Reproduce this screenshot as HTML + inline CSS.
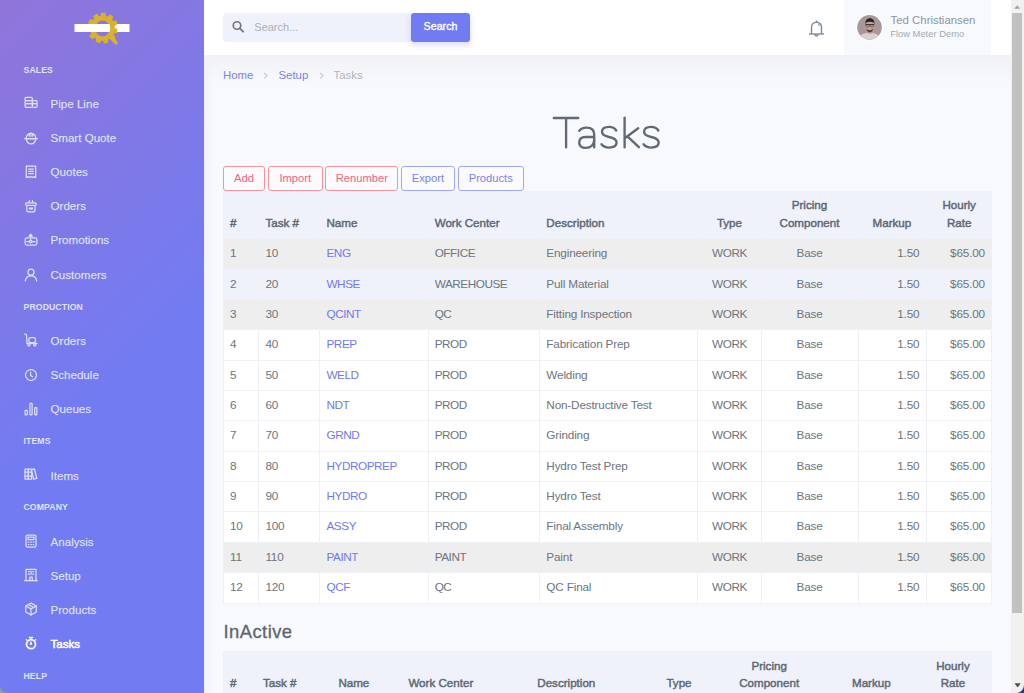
<!DOCTYPE html><html><head><meta charset="utf-8"><style>
*{box-sizing:border-box;margin:0;padding:0}
html,body{width:1024px;height:693px;overflow:hidden;background:#f8f9fd;font-family:"Liberation Sans",sans-serif;}
.abs{position:absolute;white-space:nowrap}
#side{position:absolute;left:0;top:0;width:204px;height:693px;background:linear-gradient(135deg,#9075d9 0px,#727bf2 354px);}
.sec{position:absolute;left:23.5px;font-size:8.7px;font-weight:bold;color:#dfe3f0;letter-spacing:.1px;line-height:10px}
.nav{position:absolute;left:50.5px;font-size:11.6px;color:#dde1ef;line-height:14px;-webkit-text-stroke:0.25px rgba(221,225,239,.7)}
.nav.act{color:#fff;-webkit-text-stroke:0.5px #fff}
.ico{position:absolute;left:24px;width:14px;height:14px}
#hdr{position:absolute;left:204px;top:0;width:807px;height:55px;background:#fff}
#shadow{position:absolute;left:204px;top:55px;width:808px;height:30px;background:linear-gradient(#f1f2f6,rgba(248,249,253,0))}
#lshadow{position:absolute;left:204px;top:55px;width:9px;height:638px;background:linear-gradient(90deg,#f0f2f6,rgba(248,249,253,0))}
table{position:absolute;border-collapse:collapse;table-layout:fixed;font-size:11.75px;color:#6c757d}
td,th{white-space:nowrap;overflow:hidden;padding:0 7px 0 6px;border-left:1px solid #edf0f6;}
th{text-align:left;font-weight:normal;color:#5d6874;-webkit-text-stroke:0.45px #5d6874;vertical-align:bottom;line-height:17.5px;padding-bottom:7.0px;background:#eff2fa;border-left-color:#edf0f8;font-size:11.6px}
td{line-height:14px;padding-bottom:1.0px;letter-spacing:-0.18px}
td.c,th.c{text-align:center}
td.r{text-align:right}
td.k{letter-spacing:-0.45px}
a{color:#7179f0;text-decoration:none}
.btn{position:absolute;top:165.7px;height:25px;border:1px solid;border-radius:3px;font-size:11.2px;line-height:23px;text-align:center;background:#fbfbfe}
.red{border-color:#f6919f;color:#ef6580}
.blu{border-color:#a1a7f7;color:#7b82ef}
</style></head><body>
<div id="side"></div>
<svg class="abs" style="left:70px;top:8px" width="66" height="42" viewBox="70 8 66 42"><defs><clipPath id="gr"><rect x="109.6" y="0" width="30" height="60"/></clipPath></defs><path d="M99.90 16.43 L100.98 16.22 L101.74 13.23 L105.14 13.40 L105.60 16.46 L106.65 16.77 L107.67 17.18 L109.93 15.07 L112.70 17.05 L111.44 19.87 L112.15 20.70 L112.79 21.60 L115.83 21.05 L117.08 24.21 L114.50 25.90 L114.65 26.99 L114.70 28.08 L117.55 29.27 L116.90 32.60 L113.81 32.63 L113.35 33.62 L112.80 34.57 L114.56 37.11 L112.21 39.57 L109.60 37.92 L108.68 38.51 L107.70 39.01 L107.81 42.10 L104.50 42.89 L103.20 40.09 L102.10 40.09 L101.01 39.98 L99.43 42.64 L96.22 41.52 L96.64 38.45 L95.72 37.86 L94.85 37.18 L92.09 38.56 L90.00 35.88 L92.00 33.53 L91.55 32.53 L91.19 31.50 L88.12 31.16 L87.80 27.78 L90.76 26.89 L90.92 25.80 L91.18 24.74 L88.78 22.79 L90.34 19.78 L93.31 20.62 L94.04 19.80 L94.83 19.04 L93.86 16.11 L96.80 14.42 L98.85 16.74Z M110.30 28.50 A7.7 8.6 0 1 0 94.90 28.50 A7.7 8.6 0 1 0 110.30 28.50Z" fill="#d9b12b" fill-rule="evenodd" stroke="#d9b12b" stroke-width="1.1" stroke-linejoin="round"/><path d="M106.5 35.2 L112.8 32.8 L118.3 44.2 L115.2 44.6Z" fill="#d9b12b"/><rect x="74.5" y="24" width="55" height="8" fill="#fff"/><g clip-path="url(#gr)"><path d="M99.90 16.43 L100.98 16.22 L101.74 13.23 L105.14 13.40 L105.60 16.46 L106.65 16.77 L107.67 17.18 L109.93 15.07 L112.70 17.05 L111.44 19.87 L112.15 20.70 L112.79 21.60 L115.83 21.05 L117.08 24.21 L114.50 25.90 L114.65 26.99 L114.70 28.08 L117.55 29.27 L116.90 32.60 L113.81 32.63 L113.35 33.62 L112.80 34.57 L114.56 37.11 L112.21 39.57 L109.60 37.92 L108.68 38.51 L107.70 39.01 L107.81 42.10 L104.50 42.89 L103.20 40.09 L102.10 40.09 L101.01 39.98 L99.43 42.64 L96.22 41.52 L96.64 38.45 L95.72 37.86 L94.85 37.18 L92.09 38.56 L90.00 35.88 L92.00 33.53 L91.55 32.53 L91.19 31.50 L88.12 31.16 L87.80 27.78 L90.76 26.89 L90.92 25.80 L91.18 24.74 L88.78 22.79 L90.34 19.78 L93.31 20.62 L94.04 19.80 L94.83 19.04 L93.86 16.11 L96.80 14.42 L98.85 16.74Z M110.30 28.50 A7.7 8.6 0 1 0 94.90 28.50 A7.7 8.6 0 1 0 110.30 28.50Z" fill="#d9b12b" fill-rule="evenodd"/></g></svg>

<div class="sec" style="top:65.0px">SALES</div>
<div class="sec" style="top:302.0px">PRODUCTION</div>
<div class="sec" style="top:435.9px">ITEMS</div>
<div class="sec" style="top:501.9px">COMPANY</div>
<div class="sec" style="top:670.6px">HELP</div>
<svg class="abs" style="left:23.7px;top:96.3px" width="14" height="14" viewBox="0 0 14 14" fill="none" stroke="#dce1ee" stroke-width="1.25" stroke-linecap="round" stroke-linejoin="round" color="#dce1ee"><rect x="1" y="1.3" width="7.4" height="3.2" rx="1.2"/><rect x="1" y="4.5" width="7.4" height="3.2" rx="1.2"/><rect x="1" y="7.7" width="7.4" height="3.6" rx="1.2"/><rect x="8.4" y="4.5" width="4.8" height="3.2" rx="1.2"/><rect x="8.4" y="7.7" width="4.8" height="3.6" rx="1.2"/></svg>
<div class="nav" style="top:97.4px">Pipe Line</div>
<svg class="abs" style="left:23.7px;top:130.5px" width="14" height="14" viewBox="0 0 14 14" fill="none" stroke="#dce1ee" stroke-width="1.25" stroke-linecap="round" stroke-linejoin="round" color="#dce1ee"><path d="M2.2 6.8 A4.9 5.6 0 0 1 11.8 6.8"/><path d="M0.9 7.7 H13.1" stroke-width="1.6"/><path d="M2.5 8.8 A4.6 5 0 0 0 11.5 8.8"/><path d="M5.3 2.6 V5.2 M7 1.9 V5.2 M8.7 2.6 V5.2"/></svg>
<div class="nav" style="top:131.3px">Smart Quote</div>
<svg class="abs" style="left:23.7px;top:164.9px" width="14" height="14" viewBox="0 0 14 14" fill="none" stroke="#dce1ee" stroke-width="1.25" stroke-linecap="round" stroke-linejoin="round" color="#dce1ee"><path d="M2.3 1 H11.7 V12.6 L10.1 11.6 8.5 12.6 7 11.6 5.5 12.6 3.9 11.6 2.3 12.6Z"/><path d="M4.6 4 H9.4 M4.6 6.3 H9.4 M4.6 8.6 H9.4"/></svg>
<div class="nav" style="top:165.3px">Quotes</div>
<svg class="abs" style="left:23.7px;top:198.8px" width="14" height="14" viewBox="0 0 14 14" fill="none" stroke="#dce1ee" stroke-width="1.25" stroke-linecap="round" stroke-linejoin="round" color="#dce1ee"><rect x="1.5" y="3.9" width="10.8" height="2.5" rx="1.2"/><path d="M4.9 3.9 L5.5 1.5 M8.9 3.9 L8.3 1.5"/><path d="M2.8 6.6 V10.9 Q2.8 12.8 4.7 12.8 H9.1 Q11 12.8 11 10.9 V6.6"/><circle cx="5.9" cy="9.5" r="0.55" fill="currentColor"/><circle cx="7.9" cy="9.5" r="0.55" fill="currentColor"/></svg>
<div class="nav" style="top:199.3px">Orders</div>
<svg class="abs" style="left:23.7px;top:232.8px" width="14" height="14" viewBox="0 0 14 14" fill="none" stroke="#dce1ee" stroke-width="1.25" stroke-linecap="round" stroke-linejoin="round" color="#dce1ee"><path d="M5.3 4.9 H2.9 Q1.1 4.9 1.1 6.7 V10.3 Q1.1 12.1 2.9 12.1 H11.1 Q12.9 12.1 12.9 10.3 V6.7 Q12.9 4.9 11.1 4.9 H8.1"/><path d="M6.7 6.6 V2.6"/><path d="M5.1 3.2 L6.7 1.2 L8.3 3.2Z" fill="currentColor"/><path d="M2.9 8.6 H5.3 M8.1 8.6 H11.1"/><circle cx="6.7" cy="8.6" r="1.3"/></svg>
<div class="nav" style="top:233.3px">Promotions</div>
<svg class="abs" style="left:23.7px;top:267.5px" width="14" height="14" viewBox="0 0 14 14" fill="none" stroke="#dce1ee" stroke-width="1.25" stroke-linecap="round" stroke-linejoin="round" color="#dce1ee"><circle cx="7" cy="4.2" r="3"/><path d="M1.4 13 C1.6 9.6 4 7.9 7 7.9 C10 7.9 12.4 9.6 12.6 13"/></svg>
<div class="nav" style="top:267.7px">Customers</div>
<svg class="abs" style="left:23.7px;top:332.7px" width="14" height="14" viewBox="0 0 14 14" fill="none" stroke="#dce1ee" stroke-width="1.25" stroke-linecap="round" stroke-linejoin="round" color="#dce1ee"><path d="M0.8 1.2 H1.6 Q2.4 1.2 2.5 2.2 L3 10.4"/><rect x="4.9" y="4.7" width="6.6" height="5" rx="1.4"/><path d="M3 10.4 H13"/><circle cx="5" cy="11.8" r="1.2"/><circle cx="10.8" cy="11.8" r="1.2"/></svg>
<div class="nav" style="top:334.1px">Orders</div>
<svg class="abs" style="left:23.7px;top:367.8px" width="14" height="14" viewBox="0 0 14 14" fill="none" stroke="#dce1ee" stroke-width="1.25" stroke-linecap="round" stroke-linejoin="round" color="#dce1ee"><circle cx="7" cy="7" r="5.5"/><path d="M6.6 4 V7.4 L8.6 8.8"/></svg>
<div class="nav" style="top:368.1px">Schedule</div>
<svg class="abs" style="left:23.7px;top:402.2px" width="14" height="14" viewBox="0 0 14 14" fill="none" stroke="#dce1ee" stroke-width="1.25" stroke-linecap="round" stroke-linejoin="round" color="#dce1ee"><rect x="1.1" y="8.4" width="2.3" height="4.5" rx="0.6"/><rect x="5.9" y="1.3" width="2.2" height="11.6" rx="0.6"/><rect x="10.7" y="5.5" width="2.1" height="7.4" rx="0.6"/></svg>
<div class="nav" style="top:402.1px">Queues</div>
<svg class="abs" style="left:23.7px;top:467.4px" width="14" height="14" viewBox="0 0 14 14" fill="none" stroke="#dce1ee" stroke-width="1.25" stroke-linecap="round" stroke-linejoin="round" color="#dce1ee"><rect x="1" y="2" width="3.3" height="10" /><rect x="4.3" y="2" width="3.3" height="10"/><rect x="8.4" y="2.2" width="3.2" height="9.8" transform="rotate(-14 10 7)"/><path d="M1 5 H7.6 M1 9 H7.6"/></svg>
<div class="nav" style="top:468.8px">Items</div>
<svg class="abs" style="left:23.7px;top:534.0px" width="14" height="14" viewBox="0 0 14 14" fill="none" stroke="#dce1ee" stroke-width="1.25" stroke-linecap="round" stroke-linejoin="round" color="#dce1ee"><rect x="2" y="1" width="10" height="12" rx="1.6"/><rect x="4" y="3" width="6" height="2.6"/><path d="M4.2 8.2 H4.8 M6.7 8.2 H7.3 M9.2 8.2 H9.8 M4.2 10.6 H4.8 M6.7 10.6 H7.3 M9.2 10.6 H9.8"/></svg>
<div class="nav" style="top:535.3px">Analysis</div>
<svg class="abs" style="left:23.7px;top:568.0px" width="14" height="14" viewBox="0 0 14 14" fill="none" stroke="#dce1ee" stroke-width="1.25" stroke-linecap="round" stroke-linejoin="round" color="#dce1ee"><path d="M2 12.7 V1.3 H12 V12.7"/><path d="M0.6 12.7 H13.4"/><path d="M4.3 3.6 H5.3 M8.7 3.6 H9.7 M4.3 6.2 H5.3 M8.7 6.2 H9.7 M7 3.2 V6.6"/><path d="M5.8 12.7 V9.2 H8.2 V12.7"/></svg>
<div class="nav" style="top:569.3px">Setup</div>
<svg class="abs" style="left:23.7px;top:602.1px" width="14" height="14" viewBox="0 0 14 14" fill="none" stroke="#dce1ee" stroke-width="1.25" stroke-linecap="round" stroke-linejoin="round" color="#dce1ee"><path d="M7 1.1 L12.3 4 V10 L7 12.9 L1.7 10 V4 Z"/><path d="M1.7 4 L7 6.9 L12.3 4 M7 6.9 V12.9 M4.4 2.6 L9.6 5.5"/></svg>
<div class="nav" style="top:603.1px">Products</div>
<svg class="abs" style="left:23.7px;top:636.2px" width="14" height="14" viewBox="0 0 14 14" fill="none" stroke="#fff" stroke-width="1.25" stroke-linecap="round" stroke-linejoin="round" color="#fff"><circle cx="7" cy="8.2" r="4.5" stroke-width="1.7"/><path d="M5.4 1.6 H8.6" stroke-width="1.5"/><path d="M7 1.6 V3.4" stroke-width="1.4"/><path d="M11 4.3 L11.7 3.6 M3 4.3 L2.3 3.6" stroke-width="1.3"/><path d="M7 5.9 L7.6 8.4 H6.4Z" fill="currentColor" stroke-width="0.8"/></svg>
<div class="nav act" style="top:637.3px">Tasks</div>
<div id="hdr"></div>
<div id="shadow"></div><div id="lshadow"></div>
<div class="abs" style="left:223px;top:13px;width:190px;height:29px;background:#eff2fa;border-radius:4px"></div>
<svg class="abs" style="left:230px;top:19px" width="16" height="16" viewBox="0 0 16 16"><circle cx="7" cy="6.5" r="3.75" fill="none" stroke="#6f7882" stroke-width="1.7"/><path d="M9.8 9.3 L13.2 12.7" stroke="#6f7882" stroke-width="1.8" stroke-linecap="round"/></svg>
<div class="abs" style="left:254.3px;top:20px;font-size:11px;line-height:14px;color:#a9b0ba">Search...</div>
<div class="abs" style="left:411px;top:12.6px;width:59px;height:29.5px;background:#717cf2;border-radius:3px;box-shadow:0 3px 6px rgba(113,124,242,.28)"></div>
<div class="abs" style="left:411px;top:18.9px;width:59px;text-align:center;font-size:10.7px;line-height:14px;color:#fff;-webkit-text-stroke:0.35px #fff">Search</div>
<svg class="abs" style="left:806px;top:18px" width="22" height="22" viewBox="0 0 22 22"><g fill="none" stroke="#7d8b97" stroke-width="1.4" stroke-linejoin="round"><path d="M5.5 15.8 V9.5 C5.5 6.2 7.7 4.2 10.5 4.2 C13.3 4.2 15.5 6.2 15.5 9.5 V15.8"/><path d="M3 16 H18"/><path d="M8.8 16.3 a1.7 1.7 0 0 0 3.4 0"/><path d="M10.5 2.5 V4.2"/><path d="M12.5 6.5 l1 1"/></g></svg>
<div class="abs" style="left:844px;top:0;width:147px;height:55px;background:#f8f9fd"></div>
<svg class="abs" style="left:856px;top:14px" width="27" height="27" viewBox="0 0 27 27"><defs><clipPath id="cc"><circle cx="13.5" cy="13.4" r="12.3"/></clipPath><filter id="bl" x="-20%" y="-20%" width="140%" height="140%"><feGaussianBlur stdDeviation="0.45"/></filter></defs><circle cx="13.5" cy="13.4" r="13.3" fill="#fff"/><circle cx="13.5" cy="13.4" r="12.3" fill="#a9989b"/><g clip-path="url(#cc)" filter="url(#bl)"><path d="M3 27 C3 21 7 19 13.5 18.6 C20 19 24 21 24 27Z" fill="#d8d0d0"/><rect x="11.6" y="15" width="4.4" height="4.5" fill="#b99488"/><ellipse cx="13.8" cy="12.6" rx="4.2" ry="5.4" fill="#c7a293"/><path d="M9.3 10.5 C9 6.4 11 4.3 13.9 4.3 C17 4.3 18.8 6.4 18.4 10.6 L17.8 8.6 C15.5 7.6 12 7.6 9.9 8.7Z" fill="#2a2321"/><path d="M9.5 10.6 H18.2" stroke="#3b302d" stroke-width="1.1"/><rect x="10.2" y="10.6" width="3.1" height="2.3" rx="0.8" fill="none" stroke="#4a3c38" stroke-width="0.6"/><rect x="14.3" y="10.6" width="3.1" height="2.3" rx="0.8" fill="none" stroke="#4a3c38" stroke-width="0.6"/><path d="M10.2 14.3 C10.8 17.6 12.4 18.3 13.8 18.3 C15.2 18.3 16.8 17.6 17.4 14.3 C16.4 15.8 15.2 16.2 13.8 16.2 C12.4 16.2 11.2 15.8 10.2 14.3Z" fill="#4e3d39"/></g></svg>
<div class="abs" style="left:890.6px;top:13.2px;font-size:11.4px;line-height:14px;color:#8a96a2">Ted Christiansen</div>
<div class="abs" style="left:890.2px;top:28.2px;font-size:9.4px;line-height:11px;color:#a3abb3">Flow Meter Demo</div>
<div class="abs" style="left:1011px;top:0;width:13px;height:693px;background:#f1f1f1"></div>
<div class="abs" style="left:1012px;top:13px;width:10px;height:600px;background:#c1c1c1"></div>
<svg class="abs" style="left:1011px;top:0" width="13" height="13"><path d="M3.2 8.8 L6.2 5.2 L9.2 8.8Z" fill="#a3a3a3"/></svg>
<svg class="abs" style="left:1011px;top:680px" width="13" height="13"><path d="M3.5 3.2 L6.6 7.5 L9.7 3.2Z" fill="#505050"/></svg>
<div class="abs" style="left:223px;top:67.6px;font-size:11.4px;line-height:14px;color:#7b82ef">Home</div>
<svg class="abs" style="left:262px;top:71px" width="8" height="9"><path d="M2 1.8 L5.2 4.6 L2 7.4" fill="none" stroke="#c3c7ce" stroke-width="1.1"/></svg>
<div class="abs" style="left:278.5px;top:67.6px;font-size:11.4px;line-height:14px;color:#7b82ef">Setup</div>
<svg class="abs" style="left:317.5px;top:71px" width="8" height="9"><path d="M2 1.8 L5.2 4.6 L2 7.4" fill="none" stroke="#c3c7ce" stroke-width="1.1"/></svg>
<div class="abs" style="left:333.5px;top:67.6px;font-size:11.4px;line-height:14px;color:#b0b5bc">Tasks</div>
<svg class="abs" style="left:545px;top:110px" width="122" height="44" viewBox="545 110 122 44" fill="none" stroke="#5f6a75" stroke-width="2.35" stroke-linecap="round"><path d="M553.8 118 H578.2 M566.1 118.4 V147.3"/><path d="M579.3 130.8 C580.8 128.6 583.2 127.6 586.4 127.6 C591.4 127.6 594.2 130 594.2 134.6 V147.2"/><path d="M594 137 H585.5 C581.4 137 579.2 139.2 579.2 142.4 C579.2 145.8 581.8 147.8 585.8 147.8 C590.6 147.8 593.8 145 594.1 140.6"/><path d="M616.2 130.5 C614.5 127.8 612 126.9 609 126.9 C604.5 126.9 602 129 602 131.8 C602 135 605 136.2 609 137 C613.5 137.9 616.6 139.2 616.6 142.6 C616.6 145.7 613.6 147.6 609 147.6 C605.5 147.6 603 146.3 601.5 144.3"/><path d="M624.6 117.6 V147.3 M638.2 128.2 L625.4 137.8 M627.4 136.4 L638.9 147.2"/><path transform="translate(42.1 0)" d="M616.2 130.5 C614.5 127.8 612 126.9 609 126.9 C604.5 126.9 602 129 602 131.8 C602 135 605 136.2 609 137 C613.5 137.9 616.6 139.2 616.6 142.6 C616.6 145.7 613.6 147.6 609 147.6 C605.5 147.6 603 146.3 601.5 144.3"/></svg>
<div class="btn red" style="left:223px;width:42.0px">Add</div>
<div class="btn red" style="left:268px;width:54.5px">Import</div>
<div class="btn red" style="left:325.2px;width:73.3px">Renumber</div>
<div class="btn blu" style="left:401px;width:53.8px">Export</div>
<div class="btn blu" style="left:458px;width:65.5px">Products</div>
<table style="left:223px;top:191px;width:768.50px"><colgroup><col style="width:35.40px"><col style="width:61.10px"><col style="width:108.20px"><col style="width:111.70px"><col style="width:158.10px"><col style="width:64.00px"><col style="width:96.10px"><col style="width:68.80px"><col style="width:65.10px"></colgroup><tr style="height:47.70px"><th class="">#</th><th class="">Task #</th><th class="">Name</th><th class="">Work Center</th><th class="">Description</th><th class="c">Type</th><th class="c">Pricing<br>Component</th><th class="c">Markup</th><th class="c">Hourly<br>Rate</th></tr><tr style="height:30.358px;background:#eeeeee;border-top:1px solid #eef1f6"><td>1</td><td>10</td><td class="k"><a>ENG</a></td><td class="k">OFFICE</td><td>Engineering</td><td class="c k">WORK</td><td class="c">Base</td><td class="r">1.50</td><td class="r">$65.00</td></tr><tr style="height:30.358px;background:#eff2fa;border-top:1px solid #eef1f6"><td>2</td><td>20</td><td class="k"><a>WHSE</a></td><td class="k">WAREHOUSE</td><td>Pull Material</td><td class="c k">WORK</td><td class="c">Base</td><td class="r">1.50</td><td class="r">$65.00</td></tr><tr style="height:30.358px;background:#eeeeee;border-top:1px solid #eef1f6"><td>3</td><td>30</td><td class="k"><a>QCINT</a></td><td class="k">QC</td><td>Fitting Inspection</td><td class="c k">WORK</td><td class="c">Base</td><td class="r">1.50</td><td class="r">$65.00</td></tr><tr style="height:30.358px;background:#fff;border-top:1px solid #eef1f6"><td>4</td><td>40</td><td class="k"><a>PREP</a></td><td class="k">PROD</td><td>Fabrication Prep</td><td class="c k">WORK</td><td class="c">Base</td><td class="r">1.50</td><td class="r">$65.00</td></tr><tr style="height:30.358px;background:#fff;border-top:1px solid #eef1f6"><td>5</td><td>50</td><td class="k"><a>WELD</a></td><td class="k">PROD</td><td>Welding</td><td class="c k">WORK</td><td class="c">Base</td><td class="r">1.50</td><td class="r">$65.00</td></tr><tr style="height:30.358px;background:#fff;border-top:1px solid #eef1f6"><td>6</td><td>60</td><td class="k"><a>NDT</a></td><td class="k">PROD</td><td>Non-Destructive Test</td><td class="c k">WORK</td><td class="c">Base</td><td class="r">1.50</td><td class="r">$65.00</td></tr><tr style="height:30.358px;background:#fff;border-top:1px solid #eef1f6"><td>7</td><td>70</td><td class="k"><a>GRND</a></td><td class="k">PROD</td><td>Grinding</td><td class="c k">WORK</td><td class="c">Base</td><td class="r">1.50</td><td class="r">$65.00</td></tr><tr style="height:30.358px;background:#fff;border-top:1px solid #eef1f6"><td>8</td><td>80</td><td class="k"><a>HYDROPREP</a></td><td class="k">PROD</td><td>Hydro Test Prep</td><td class="c k">WORK</td><td class="c">Base</td><td class="r">1.50</td><td class="r">$65.00</td></tr><tr style="height:30.358px;background:#fff;border-top:1px solid #eef1f6"><td>9</td><td>90</td><td class="k"><a>HYDRO</a></td><td class="k">PROD</td><td>Hydro Test</td><td class="c k">WORK</td><td class="c">Base</td><td class="r">1.50</td><td class="r">$65.00</td></tr><tr style="height:30.358px;background:#fff;border-top:1px solid #eef1f6"><td>10</td><td>100</td><td class="k"><a>ASSY</a></td><td class="k">PROD</td><td>Final Assembly</td><td class="c k">WORK</td><td class="c">Base</td><td class="r">1.50</td><td class="r">$65.00</td></tr><tr style="height:30.358px;background:#eeeeee;border-top:1px solid #eef1f6"><td>11</td><td>110</td><td class="k"><a>PAINT</a></td><td class="k">PAINT</td><td>Paint</td><td class="c k">WORK</td><td class="c">Base</td><td class="r">1.50</td><td class="r">$65.00</td></tr><tr style="height:30.358px;background:#fff;border-top:1px solid #eef1f6"><td>12</td><td>120</td><td class="k"><a>QCF</a></td><td class="k">QC</td><td>QC Final</td><td class="c k">WORK</td><td class="c">Base</td><td class="r">1.50</td><td class="r">$65.00</td></tr></table>
<div class="abs" style="left:991px;top:239px;width:1px;height:364px;background:#edf0f6"></div>
<div class="abs" style="left:223px;top:603px;width:769px;height:1px;background:#f0f2f7"></div>
<div class="abs" style="left:223.5px;top:620.6px;font-size:18.4px;line-height:22px;letter-spacing:0.45px;color:#5b6671;-webkit-text-stroke:0.3px #5b6671">InActive</div>
<table style="left:223px;top:650.9px;width:768.50px"><colgroup><col style="width:32.90px"><col style="width:75.50px"><col style="width:70.00px"><col style="width:128.90px"><col style="width:118.10px"><col style="width:61.20px"><col style="width:119.20px"><col style="width:85.20px"><col style="width:77.50px"></colgroup><tr style="height:47.70px"><th class="">#</th><th class="">Task #</th><th class="">Name</th><th class="">Work Center</th><th class="">Description</th><th class="c">Type</th><th class="c">Pricing<br>Component</th><th class="c">Markup</th><th class="c">Hourly<br>Rate</th></tr></table>
<svg class="abs" style="left:0;top:685px" width="8" height="8"><path d="M0 0 L0 8 L8 8 A8 8 0 0 1 0 0Z" fill="#8a9ca4"/></svg>
<svg class="abs" style="left:1016px;top:685px" width="8" height="8"><path d="M8 0 L8 8 L0 8 A8 8 0 0 0 8 0Z" fill="#1a3cb0"/></svg>
</body></html>
